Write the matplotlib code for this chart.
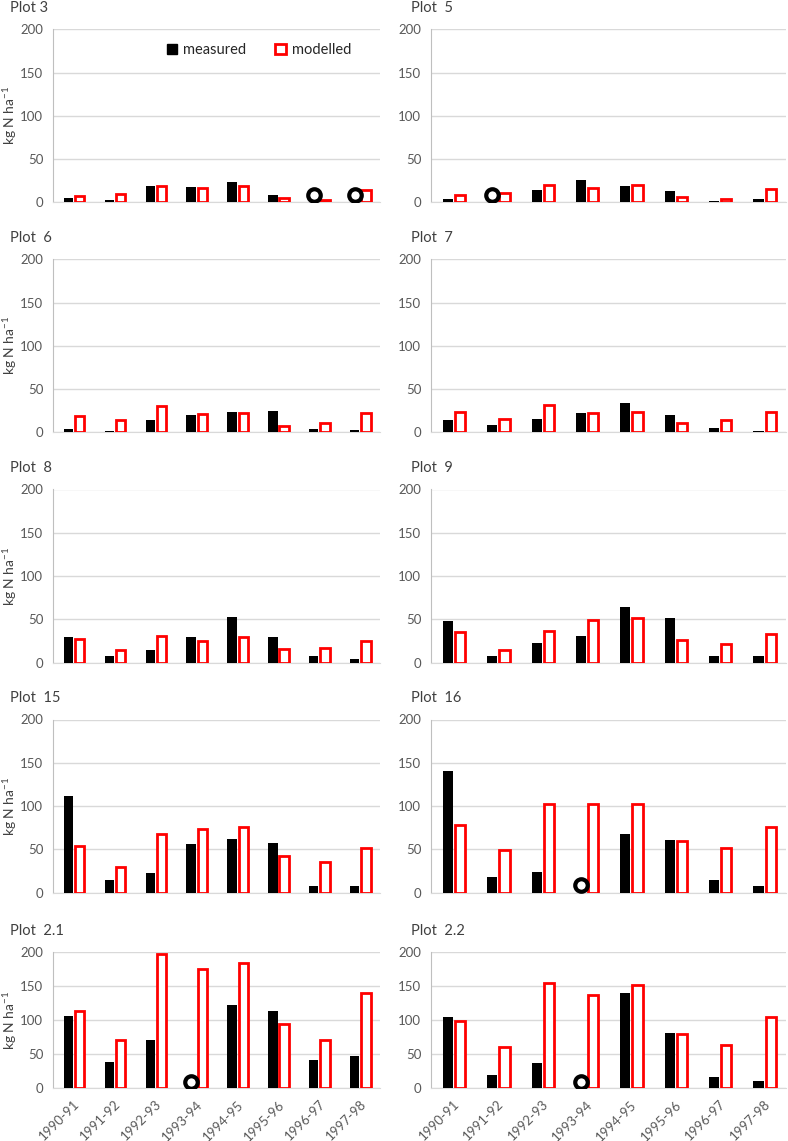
import numpy as np
import matplotlib
matplotlib.use("Agg")
import matplotlib.pyplot as plt
from matplotlib.patches import Patch

plt.rcParams['font.family'] = ['Lato', 'DejaVu Sans']

seasons = ['1990-91', '1991-92', '1992-93', '1993-94', '1994-95', '1995-96', '1996-97', '1997-98']
nan = np.nan

# measured / modelled leaching, kg N ha-1 (nan = no measurement, shown as a circle)
meas_3 = [5, 3, 19, 18, 24, 9, nan, nan]
mod_3 = [7, 10, 19, 16, 19, 5, 3, 14]
meas_5 = [4, nan, 14, 26, 19, 13, 2, 4]
mod_5 = [8, 11, 20, 17, 20, 6, 4, 15]
meas_6 = [4, 2, 14, 20, 23, 25, 4, 3]
mod_6 = [19, 14, 30, 21, 22, 7, 11, 22]
meas_7 = [14, 8, 15, 22, 34, 20, 5, 2]
mod_7 = [24, 15, 32, 22, 24, 11, 14, 24]
meas_8 = [30, 8, 14, 29, 53, 30, 8, 4]
mod_8 = [27, 14, 31, 25, 29, 16, 17, 25]
meas_9 = [48, 8, 22, 31, 64, 52, 8, 7]
mod_9 = [35, 14, 36, 49, 51, 26, 21, 33]
meas_15 = [112, 15, 22, 56, 62, 57, 8, 7]
mod_15 = [54, 29, 68, 73, 76, 42, 35, 52]
meas_16 = [140, 18, 24, nan, 68, 61, 14, 8]
mod_16 = [78, 49, 102, 102, 102, 60, 52, 76]
meas_21 = [106, 38, 70, nan, 122, 113, 42, 47]
mod_21 = [113, 71, 197, 175, 183, 94, 71, 139]
meas_22 = [105, 20, 37, nan, 140, 81, 17, 11]
mod_22 = [98, 61, 154, 136, 151, 80, 63, 105]

titles = ['Plot 3', 'Plot  5', 'Plot  6', 'Plot  7', 'Plot  8', 'Plot  9',
          'Plot  15', 'Plot  16', 'Plot  2.1', 'Plot  2.2']
panels = [(meas_3, mod_3), (meas_5, mod_5), (meas_6, mod_6), (meas_7, mod_7),
          (meas_8, mod_8), (meas_9, mod_9), (meas_15, mod_15), (meas_16, mod_16),
          (meas_21, mod_21), (meas_22, mod_22)]

W, H = 788, 1141
fig = plt.figure(figsize=(W / 100, H / 100), dpi=100)

rows = [(29.3, 202.3), (259.3, 432.3), (489.5, 662.5), (719.5, 892.5), (951.7, 1088.3)]
cols = [(53, 380), (431, 786)]

grey = '#595959'
x = np.arange(len(seasons))
bw = 0.23

for i, (meas, mod) in enumerate(panels):
    r, c = divmod(i, 2)
    top, bot = rows[r]
    left, right = cols[c]
    ax = fig.add_axes([left / W, 1 - bot / H, (right - left) / W, (bot - top) / H])

    meas = np.array(meas, dtype=float)
    ax.bar(x - 0.12, np.nan_to_num(meas), bw, color='black', zorder=3)
    ax.bar(x + 0.155, mod, bw, facecolor='white', edgecolor='#ff0000', lw=2, zorder=3)
    miss = np.isnan(meas)
    ax.plot(x[miss] - 0.12, np.full(miss.sum(), 9), 'o', mfc='white', mec='black',
            ms=9, mew=3, zorder=4)

    ax.set_xlim(-0.5, len(seasons) - 0.5)
    ax.set_ylim(0, 200)
    ax.set_yticks([0, 50, 100, 150, 200])
    ax.grid(axis='y', color='#d9d9d9', lw=1, zorder=0)
    ax.set_axisbelow(True)
    for s in ['top', 'right']:
        ax.spines[s].set_visible(False)
    ax.spines['left'].set_color('#bfbfbf')
    ax.spines['bottom'].set_color('#d9d9d9')
    ax.tick_params(length=0, labelsize=9.5, labelcolor=grey, pad=7)
    ax.set_xticks(x)
    if r == len(rows) - 1:
        ax.set_xticklabels(seasons, rotation=45, ha='right', rotation_mode='anchor', fontsize=9.5)
    else:
        ax.set_xticklabels([])

    fig.text((10 if c == 0 else 411) / W, 1 - (top - 21) / H, titles[i],
             fontsize=10.5, color='#404040', va='center', ha='left')
    if c == 0:
        fig.text(10 / W, 1 - (top + bot) / 2 / H, 'kg N ha$^{\\mathregular{-1}}$',
                 rotation=90, fontsize=10, color='#404040', va='center', ha='center')

    if i == 0:
        handles = [Patch(facecolor='black', edgecolor='black'),
                   Patch(facecolor='white', edgecolor='#ff0000', lw=2)]
        ax.legend(handles, ['measured', 'modelled'], ncol=2, frameon=False,
                  loc='center', bbox_to_anchor=(0.63, 0.88), fontsize=10.5,
                  handlelength=0.7, handleheight=0.7, handletextpad=0.4,
                  columnspacing=2.0, labelcolor='#262626')

fig.savefig('out.png', dpi=100)
